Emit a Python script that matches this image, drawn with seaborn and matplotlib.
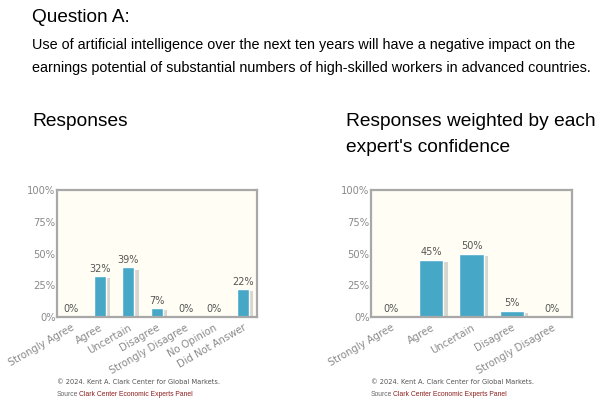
import matplotlib
matplotlib.use("Agg")
import matplotlib.pyplot as plt
import matplotlib.patheffects as pe
import seaborn as sns
import pandas as pd

# data
cats_all = ["Strongly Agree", "Agree", "Uncertain", "Disagree",
            "Strongly Disagree", "No Opinion", "Did Not Answer"]
pct_all = [0, 32, 39, 7, 0, 0, 22]

cats_weighted = ["Strongly Agree", "Agree", "Uncertain", "Disagree", "Strongly Disagree"]
pct_weighted = [0, 45, 50, 5, 0]

yticks = [0, 25, 50, 75, 100]
ytick_labels = ["0%", "25%", "50%", "75%", "100%"]

bar_color = "#46a8c6"
frame_color = "#a8a8a8"
panel_bg = "#fffdf4"
tick_color = "#8a8a8a"

sns.set_theme(style="white")
plt.rcParams['font.family'] = ['DejaVu Sans']

fig = plt.figure(figsize=(6, 4.05), dpi=100)

head_font = ['Liberation Sans', 'DejaVu Sans']
fig.text(32/600, 1 - 18/405, "Question A:", fontsize=13.7, family=head_font,
         va="center", ha="left", color="black")
fig.text(32/600, 1 - 45/405,
         "Use of artificial intelligence over the next ten years will have a negative impact on the",
         fontsize=10.4, family=head_font, va="center", ha="left", color="black")
fig.text(32/600, 1 - 68/405,
         "earnings potential of substantial numbers of high-skilled workers in advanced countries.",
         fontsize=10.4, family=head_font, va="center", ha="left", color="black")
fig.text(32/600, 1 - 122/405, "Responses", fontsize=13.8, family=head_font,
         va="center", ha="left", color="black")
fig.text(346/600, 1 - 122/405, "Responses weighted by each", fontsize=13.8,
         family=head_font, va="center", ha="left", color="black")
fig.text(346/600, 1 - 148/405, "expert's confidence", fontsize=13.8,
         family=head_font, va="center", ha="left", color="black")


def draw_panel(rect, cats, vals, width):
    ax = fig.add_axes(rect)
    df = pd.DataFrame({"cat": cats, "val": vals})
    sns.barplot(data=df, x="cat", y="val", color=bar_color, saturation=1,
                width=width, ax=ax)
    for p in ax.patches:
        p.set_path_effects([pe.SimplePatchShadow(offset=(3, -1.5),
                                                 shadow_rgbFace="#999999",
                                                 alpha=0.4),
                            pe.Normal()])
    for i, v in enumerate(vals):
        ax.text(i, v + 2, f"{v}%", ha="center", va="bottom",
                fontsize=7, color="#555555")
    ax.set_ylim(0, 100)
    ax.set_xlim(-0.5, len(cats) - 0.5)
    ax.set_yticks(yticks)
    ax.set_yticklabels(ytick_labels, fontsize=7.2, color=tick_color)
    ax.set_xticks(range(len(cats)))
    ax.set_xticklabels(cats, rotation=30, ha="right", rotation_mode="anchor",
                       fontsize=7.2, color=tick_color)
    ax.tick_params(axis="y", length=0, pad=1)
    ax.tick_params(axis="x", length=0, pad=4)
    ax.set_xlabel("")
    ax.set_ylabel("")
    ax.set_facecolor(panel_bg)
    for s in ax.spines.values():
        s.set_visible(True)
        s.set_color(frame_color)
        s.set_linewidth(1.6)
        s.set_path_effects([pe.SimplePatchShadow(offset=(1.5, -1.5),
                                                 shadow_rgbFace="#cccccc",
                                                 alpha=0.6),
                            pe.Normal()])
    return ax


ax1 = draw_panel([57/600, 88/405, 200/600, 127/405], cats_all, pct_all, 0.42)
ax2 = draw_panel([371/600, 88/405, 201/600, 127/405], cats_weighted, pct_weighted, 0.6)

for x0 in (57, 371):
    fig.text(x0/600, 1 - 382/405, "\u00a9 2024. Kent A. Clark Center for Global Markets.",
             fontsize=4.8, color="#555555", va="center", ha="left")
    fig.text(x0/600, 1 - 395/405, "Source", fontsize=4.9, color="#666666",
             va="center", ha="left", family=head_font)
    fig.text((x0 + 22)/600, 1 - 395/405, "Clark Center Economic Experts Panel",
             fontsize=4.9, color="#8b1c1c", va="center", ha="left", family=head_font)

fig.savefig("out.png", dpi=100, facecolor="white")
